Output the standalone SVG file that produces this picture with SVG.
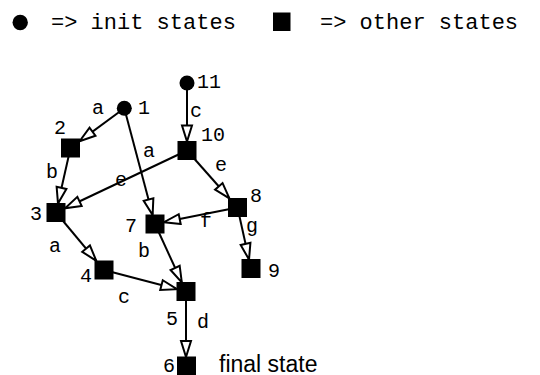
<svg xmlns="http://www.w3.org/2000/svg" width="540" height="375" viewBox="0 0 540 375">
<defs>
<marker id="arr" markerUnits="userSpaceOnUse" markerWidth="20" markerHeight="14" viewBox="-2 -2 20 14" refX="15.5" refY="5" orient="auto">
<path d="M0,0 L16,5 L0,10 Z" fill="#fff" stroke="#000" stroke-width="2" stroke-linejoin="miter"/>
</marker>
</defs>
<style>
.mono{font-family:"Liberation Mono","Courier New",monospace;font-size:20px;fill:#000}
.leg{font-family:"Liberation Mono","Courier New",monospace;font-size:22px;fill:#000}
.sans{font-family:"Liberation Sans",Arial,sans-serif;font-size:23px;fill:#000}
.e{stroke:#000;stroke-width:2;fill:none;marker-end:url(#arr)}
.sq{fill:#000}
.ci{fill:#000}
</style>
<rect width="540" height="375" fill="#fff"/>
<g id="legend">
<circle class="ci" cx="20.2" cy="22.5" r="7.7"/>
<text class="leg" x="51" y="29">=&gt; init states</text>
<rect class="sq" x="273" y="12.5" width="17.5" height="18.5"/>
<text class="leg" x="320" y="29">=&gt; other states</text>
</g>
<g id="connectors">
<line class="e" x1="187" y1="83" x2="187" y2="141"/>
<line class="e" x1="124.3" y1="108.3" x2="80" y2="140.9"/>
<line class="e" x1="124.3" y1="108.3" x2="152.5" y2="214.5"/>
<line class="e" x1="70.5" y1="148" x2="58.1" y2="203"/>
<line class="e" x1="187" y1="150.5" x2="65.5" y2="208"/>
<line class="e" x1="187" y1="150.5" x2="229.1" y2="198"/>
<line class="e" x1="237.5" y1="207.5" x2="164.5" y2="222.1"/>
<line class="e" x1="237.5" y1="207.5" x2="248.9" y2="259"/>
<line class="e" x1="56" y1="212.5" x2="96" y2="260.5"/>
<line class="e" x1="155" y1="224" x2="181.6" y2="282"/>
<line class="e" x1="104" y1="270" x2="176.5" y2="289"/>
<line class="e" x1="186" y1="291.5" x2="186" y2="356.5"/>
<text class="mono" x="190" y="117">c</text>
<text class="mono" x="92" y="114">a</text>
<text class="mono" x="143" y="157">a</text>
<text class="mono" x="46" y="178">b</text>
<text class="mono" x="115" y="186">e</text>
<text class="mono" x="215" y="171">e</text>
<text class="mono" x="200" y="227">f</text>
<text class="mono" x="246" y="232">g</text>
<text class="mono" x="49" y="252">a</text>
<text class="mono" x="138" y="257">b</text>
<text class="mono" x="118" y="303">c</text>
<text class="mono" x="197" y="328">d</text>
</g>
<g id="n11"><circle class="ci" cx="187" cy="83" r="7.5"/><text class="mono" x="197" y="88">11</text></g>
<g id="n1"><circle class="ci" cx="124.3" cy="108.3" r="7.5"/><text class="mono" x="138" y="114">1</text></g>
<g id="n2"><rect class="sq" x="61" y="138.5" width="19" height="19"/><text class="mono" x="54" y="134">2</text></g>
<g id="n10"><rect class="sq" x="177.5" y="141" width="19" height="19"/><text class="mono" x="201" y="141">10</text></g>
<g id="n3"><rect class="sq" x="46.5" y="203" width="19" height="19"/><text class="mono" x="30" y="220">3</text></g>
<g id="n8"><rect class="sq" x="228" y="198" width="19" height="19"/><text class="mono" x="250" y="202">8</text></g>
<g id="n7"><rect class="sq" x="145.5" y="214.5" width="19" height="19"/><text class="mono" x="125" y="232">7</text></g>
<g id="n9"><rect class="sq" x="241.5" y="259" width="19" height="19"/><text class="mono" x="268" y="277">9</text></g>
<g id="n4"><rect class="sq" x="94.5" y="260.5" width="19" height="19"/><text class="mono" x="80" y="282">4</text></g>
<g id="n5"><rect class="sq" x="176.5" y="282" width="19" height="19"/><text class="mono" x="166" y="325">5</text></g>
<g id="n6"><rect class="sq" x="177" y="356.5" width="19" height="19"/><text class="mono" x="163" y="372">6</text><text class="sans" x="219" y="372">final state</text></g>
</svg>
